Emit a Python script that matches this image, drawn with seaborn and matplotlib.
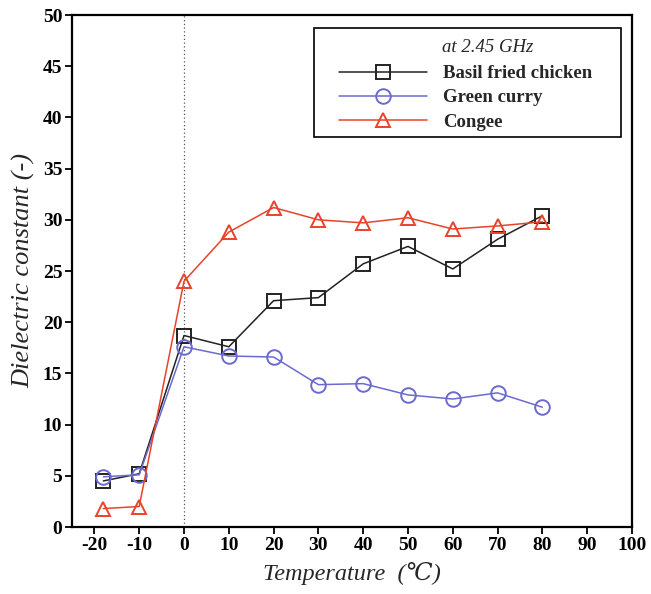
import matplotlib
matplotlib.use("Agg")
import matplotlib.pyplot as plt
from matplotlib.patches import Rectangle
import seaborn as sns
import pandas as pd

temps = [-18, -10, 0, 10, 20, 30, 40, 50, 60, 70, 80]
basil = [4.5, 5.2, 18.7, 17.6, 22.1, 22.4, 25.7, 27.4, 25.2, 28.1, 30.4]
curry = [4.9, 5.1, 17.6, 16.7, 16.6, 13.9, 14.0, 12.9, 12.5, 13.1, 11.7]
congee = [1.8, 2.0, 24.0, 28.8, 31.2, 30.0, 29.7, 30.2, 29.1, 29.4, 29.8]
series_names = ["Basil fried chicken", "Green curry", "Congee"]
x_ticks = [-20, -10, 0, 10, 20, 30, 40, 50, 60, 70, 80, 90, 100]
y_ticks = [0, 5, 10, 15, 20, 25, 30, 35, 40, 45, 50]

sns.set_style("ticks")
plt.rcParams['font.family'] = ['Liberation Serif', 'DejaVu Serif']

df = pd.DataFrame({
    "T": temps * 3,
    "v": basil + curry + congee,
    "s": [series_names[0]] * len(temps) + [series_names[1]] * len(temps) + [series_names[2]] * len(temps),
})

fig = plt.figure(figsize=(6.51, 5.94), dpi=100)
ax = fig.add_axes([72/651, 1 - 527/594, (632-72)/651, (527-15)/594])

colors = {series_names[0]: "#222222", series_names[1]: "#6a6ad0", series_names[2]: "#e8432a"}
markers = {series_names[0]: "s", series_names[1]: "o", series_names[2]: "^"}
msizes = {series_names[0]: 9.5, series_names[1]: 10.5, series_names[2]: 10.5}

ax.axvline(0, color="#555555", linestyle=(0, (1, 2)), linewidth=0.9, zorder=1)

for name in series_names:
    sub = df[df["s"] == name]
    sns.lineplot(data=sub, x="T", y="v", ax=ax, color=colors[name], marker=markers[name],
                 markersize=msizes[name], markerfacecolor="none", markeredgecolor=colors[name],
                 markeredgewidth=1.4, linewidth=1.1, label=name, zorder=3)

ax.set_xlim(-25, 100)
ax.set_ylim(0, 50)
ax.set_xticks(x_ticks)
ax.set_yticks(y_ticks)
ax.set_xticklabels([str(t) for t in x_ticks], fontsize=14, fontweight="bold")
ax.set_yticklabels([str(t) for t in y_ticks], fontsize=14, fontweight="bold")
ax.tick_params(direction="out", length=5, width=1.3, colors="black", pad=2)
for sp in ax.spines.values():
    sp.set_visible(True)
    sp.set_linewidth(1.6)
    sp.set_color("black")

ax.set_xlabel("Temperature  (\u2103)", fontstyle="italic", fontsize=17.5, labelpad=6)
ax.set_ylabel("Dielectric constant (-)", fontstyle="italic", fontsize=19, labelpad=5)

# legend frame
x0 = (314 - 72) / 560
x1 = (621 - 72) / 560
y1 = (527 - 28) / 512
y0 = (527 - 137) / 512
ax.add_patch(Rectangle((x0, y0), x1 - x0, y1 - y0, transform=ax.transAxes,
                       facecolor="white", edgecolor="black", linewidth=1.2, zorder=4))

leg = ax.legend(loc="upper left", bbox_to_anchor=((339 - 72) / 560, (527 - 65) / 512),
                frameon=False, fontsize=13.5, handlelength=4.7, handletextpad=0.85,
                borderpad=0, borderaxespad=0, labelspacing=0.38)
leg.set_zorder(5)
for t in leg.get_texts():
    t.set_fontweight("bold")

ax.text((442 - 72) / 560, (527 - 47) / 512, "at 2.45 GHz", transform=ax.transAxes,
        fontstyle="italic", fontsize=13.5, ha="left", va="center", zorder=6)

fig.savefig("out.png", dpi=100)
